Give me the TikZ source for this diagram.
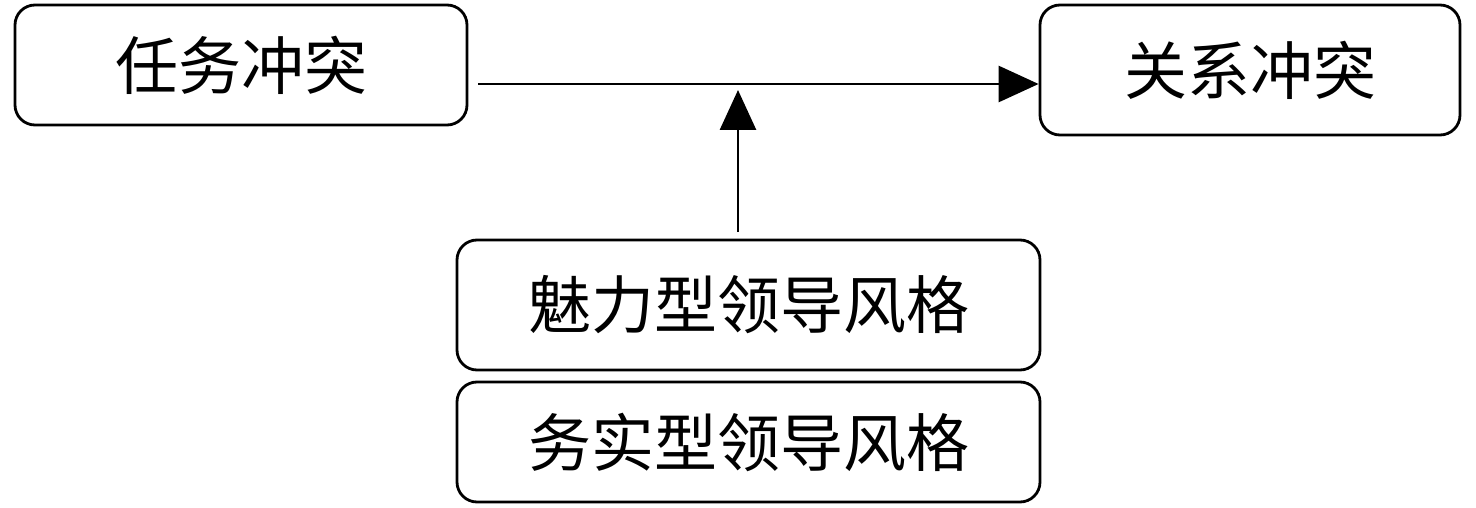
\documentclass[tikz,border=0pt]{standalone}
\usepackage{fontspec}
\newfontfamily\cjk{Noto Sans CJK SC}
\usetikzlibrary{arrows.meta}
\begin{document}
\begin{tikzpicture}[x=1pt,y=-1pt,
  box/.style={draw,line width=2.8pt,rounded corners=20pt,inner sep=0pt,font=\cjk\fontsize{63}{65}\selectfont},
  conn/.style={line width=2.8pt,-{Triangle[length=40pt,width=36pt]}}]
\useasboundingbox (0,0) rectangle (1476,508);
\node[box,minimum width=452pt,minimum height=120pt] (b1) at (241,65) {任务冲突};
\node[box,minimum width=420pt,minimum height=130pt] (b2) at (1250,70) {关系冲突};
\node[box,minimum width=583pt,minimum height=130pt] (b3) at (748.5,305) {魅力型领导风格};
\node[box,minimum width=583pt,minimum height=120pt] (b4) at (748.5,442) {务实型领导风格};
\coordinate (hs) at (478,84);
\coordinate (vs) at (738,232);
\coordinate (ve) at (738,90);
\draw[conn] (hs) -- (hs -| b2.west);
\draw[conn] (vs) -- (ve);
\end{tikzpicture}
\end{document}
